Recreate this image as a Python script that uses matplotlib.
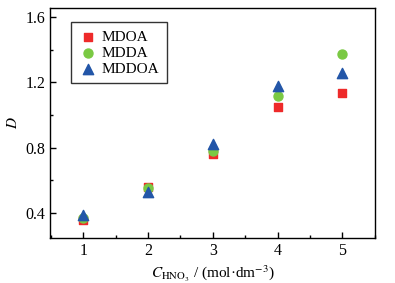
import matplotlib
matplotlib.use('Agg')
import matplotlib.pyplot as plt
from matplotlib.ticker import MultipleLocator

plt.rcParams['font.family'] = ['Liberation Serif', 'DejaVu Serif']
plt.rcParams['mathtext.fontset'] = 'stix'

conc = [1, 2, 3, 4, 5]
mdoa = [0.36, 0.56, 0.76, 1.05, 1.135]
mdda = [0.37, 0.55, 0.78, 1.115, 1.37]
mddoa = [0.39, 0.53, 0.82, 1.18, 1.255]

fig = plt.figure(figsize=(3.95, 2.83), dpi=100)
ax = fig.add_axes([0.127, 0.159, 0.822, 0.813])

ax.scatter(conc, mdoa, marker='s', s=38, color='#ee2a2a', label='MDOA', zorder=3)
ax.scatter(conc, mdda, marker='o', s=42, color='#7ac943', label='MDDA', zorder=3)
ax.scatter(conc, mddoa, marker='^', s=55, color='#2356a8', label='MDDOA', zorder=3)

ax.set_xlim(0.49, 5.5)
ax.set_ylim(0.247, 1.655)
ax.xaxis.set_major_locator(MultipleLocator(1))
ax.xaxis.set_minor_locator(MultipleLocator(0.5))
ax.yaxis.set_major_locator(MultipleLocator(0.4))
ax.yaxis.set_minor_locator(MultipleLocator(0.2))
ax.tick_params(which='both', direction='in', labelsize=11.5, width=1)
ax.tick_params(which='major', length=4)
ax.tick_params(which='minor', length=2.5)
for s in ax.spines.values():
    s.set_linewidth(1)

ax.set_xlabel(r'$C_{\mathrm{HNO_3}}$ / (mol·dm$^{-3}$)', fontsize=11, labelpad=3)
ax.set_ylabel(r'$D$', fontsize=11)

leg = ax.legend(loc='upper left', bbox_to_anchor=(0.04, 0.97), fontsize=11,
                frameon=True, fancybox=False, edgecolor='black',
                handletextpad=0.3, borderpad=0.5, labelspacing=0.15,
                handlelength=1.2)
leg.get_frame().set_linewidth(1)

fig.savefig('out.png', dpi=100)
